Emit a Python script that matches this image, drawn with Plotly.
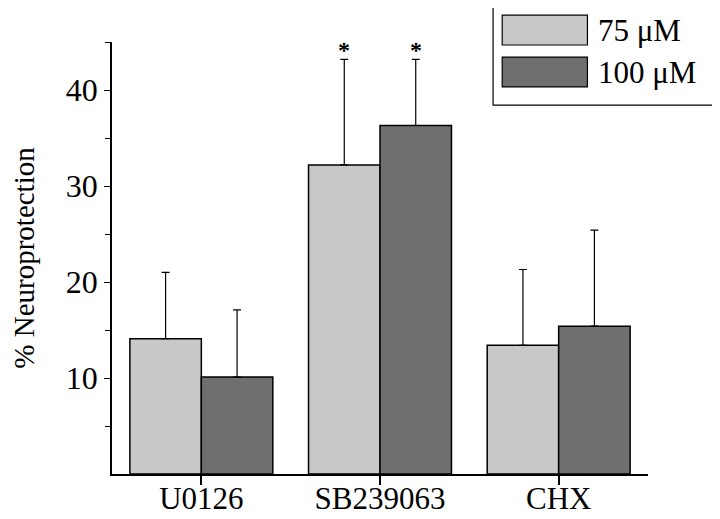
import plotly.graph_objects as go

categories = ["U0126", "SB239063", "CHX"]
series_names = ["75 μM", "100 μM"]
vals_75 = [14.1, 32.2, 13.4]
err_75 = [6.9, 11.0, 7.9]
vals_100 = [10.1, 36.3, 15.4]
err_100 = [7.0, 6.9, 10.0]
star_cats = ["SB239063"]
colors = ["#c8c8c8", "#6f6f6f"]

FONT = "Liberation Serif, Times New Roman, serif"

fig = go.Figure()
for name, vals, errs, col in [(series_names[0], vals_75, err_75, colors[0]),
                              (series_names[1], vals_100, err_100, colors[1])]:
    fig.add_trace(go.Bar(
        x=categories, y=vals, name=name,
        marker=dict(color=col, line=dict(color="black", width=1.5)),
        error_y=dict(type="data", array=errs, arrayminus=[0]*len(errs), symmetric=False,
                     color="black", thickness=1.2, width=4),
        showlegend=False,
    ))

# asterisks above significant bars
for ci, c in enumerate(categories):
    if c in star_cats:
        for off, v, e in [(-0.2, vals_75[ci], err_75[ci]), (0.2, vals_100[ci], err_100[ci])]:
            fig.add_annotation(x=ci + off, y=v + e, xref="x", yref="y", text="<b>*</b>",
                               showarrow=False, yshift=9, yanchor="middle",
                               font=dict(family=FONT, size=24, color="black"))

# custom legend
fig.add_shape(type="rect", xref="paper", yref="paper", x0=0.711, x1=1.122, y0=0.854, y1=1.086,
              line=dict(color="black", width=1.2), fillcolor="white")
for i, (name, col) in enumerate(zip(series_names, colors)):
    y1 = 1.062 - i * 0.097
    y0 = y1 - 0.069
    fig.add_shape(type="rect", xref="paper", yref="paper", x0=0.728, x1=0.887, y0=y0, y1=y1,
                  line=dict(color="black", width=1.2), fillcolor=col)
    fig.add_annotation(xref="paper", yref="paper", x=0.903, y=(y0 + y1) / 2, text=name,
                       showarrow=False, xanchor="left", yanchor="middle",
                       font=dict(family=FONT, size=31, color="black"))

fig.update_layout(
    width=720, height=519,
    margin=dict(l=104, r=80, t=34, b=53),
    paper_bgcolor="white", plot_bgcolor="white",
    barmode="group", bargap=0.2, bargroupgap=0,
    font=dict(family=FONT, color="black"),
)
fig.update_xaxes(
    type="category", range=[-0.5, 2.5], automargin=False,
    showline=True, linecolor="black", linewidth=1.5,
    ticks="outside", ticklen=9, tickwidth=1.5, tickcolor="black",
    tickfont=dict(family=FONT, size=31, color="black"),
    ticklabelstandoff=-13,
    showgrid=False, zeroline=False,
)
fig.update_yaxes(
    range=[0, 45], tickvals=[10, 20, 30, 40], automargin=False,
    showline=True, linecolor="black", linewidth=1.5,
    ticks="outside", ticklen=6, tickwidth=1.2, tickcolor="black",
    tickfont=dict(family=FONT, size=32, color="black"),
    minor=dict(tickvals=[5, 15, 25, 35, 45], ticks="outside", ticklen=5, tickcolor="black", tickwidth=1.2),
    showgrid=False, zeroline=False,
    title=dict(text="% Neuroprotection", font=dict(family=FONT, size=29, color="black"), standoff=37),
)

fig.write_html("out.html")
